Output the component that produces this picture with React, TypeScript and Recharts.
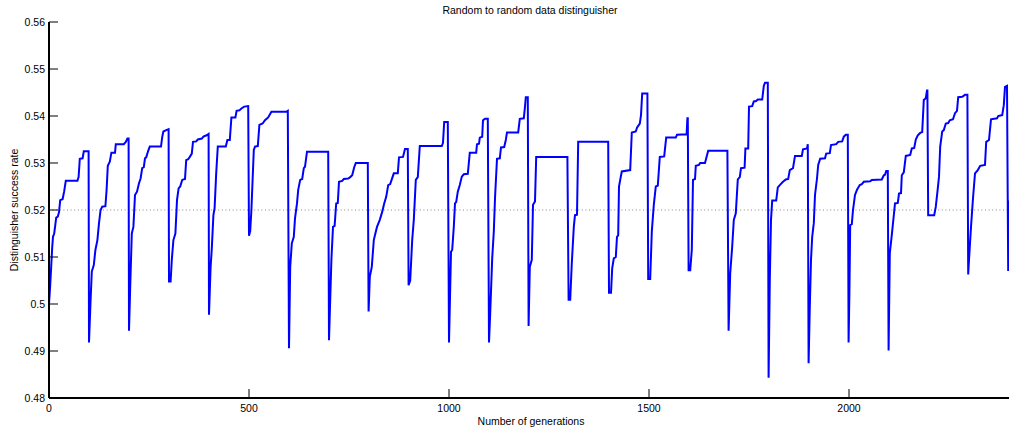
import React from "react";
import { LineChart, Line, XAxis, YAxis, ReferenceLine } from "recharts";

// Generation index of each vertex of the curve
const generations: number[] = [
  0, 3, 8, 10, 13, 16, 18, 22, 25, 28, 34, 38, 42, 71, 74, 77, 84, 87, 99,
  100, 104, 107, 112, 116, 121, 125, 129, 133, 141, 144, 147, 152, 156, 165, 167, 187, 192, 196, 199,
  200, 203, 207, 211, 215, 220, 225, 229, 233, 237, 240, 243, 248, 252, 280, 283, 286, 293, 299,
  300, 304, 307, 311, 316, 320, 324, 328, 333, 340, 343, 348, 352, 357, 360, 368, 372, 382, 386, 394, 399,
  400, 404, 407, 411, 414, 418, 422, 442, 446, 452, 456, 466, 469, 476, 481, 488, 498,
  500, 503, 506, 509, 512, 515, 522, 526, 534, 540, 548, 556, 593, 597,
  600, 603, 607, 612, 615, 620, 623, 628, 633, 637, 640, 645, 698,
  700, 706, 710, 714, 718, 722, 725, 733, 737, 748, 753, 758, 763, 767, 797,
  799, 802, 807, 812, 815, 820, 827, 833, 838, 843, 848, 853, 862, 872, 875, 885, 890, 897,
  899, 903, 908, 912, 917, 922, 927, 982, 985, 988, 997,
  1000, 1005, 1008, 1012, 1015, 1018, 1022, 1027, 1032, 1037, 1047, 1052, 1068, 1070, 1075, 1077, 1083, 1085, 1090, 1097,
  1100, 1103, 1108, 1112, 1115, 1120, 1127, 1130, 1138, 1142, 1145, 1173, 1177, 1187, 1190, 1192, 1197,
  1199, 1202, 1207, 1210, 1215, 1218, 1296,
  1299, 1303, 1307, 1312, 1315, 1320, 1323, 1398,
  1400, 1405, 1408, 1412, 1417, 1420, 1423, 1425, 1428, 1432, 1453, 1457, 1467, 1470, 1477, 1480, 1483, 1496,
  1498, 1503, 1507, 1512, 1517, 1522, 1527, 1538, 1543, 1567, 1570, 1594, 1596, 1597,
  1599, 1603, 1607, 1610, 1615, 1617, 1625, 1628, 1640, 1648, 1696,
  1699, 1703, 1708, 1712, 1717, 1722, 1727, 1730, 1739, 1741, 1748, 1750, 1758, 1762, 1768, 1772, 1783, 1787, 1790, 1797,
  1799, 1802, 1805, 1808, 1818, 1822, 1827, 1835, 1842, 1848, 1852, 1860, 1865, 1882, 1885, 1895, 1897,
  1899, 1902, 1905, 1908, 1912, 1915, 1920, 1923, 1928, 1940, 1943, 1952, 1955, 1968, 1973, 1983, 1987, 1992, 1997,
  1999, 2001, 2003, 2007, 2010, 2015, 2020, 2027, 2032, 2037, 2053, 2057, 2082, 2087, 2090, 2093, 2097,
  2099, 2102, 2107, 2110, 2115, 2122, 2125, 2130, 2132, 2137, 2142, 2153, 2157, 2163, 2167, 2172, 2178, 2183, 2187, 2192, 2195, 2196,
  2198, 2213, 2217, 2222, 2225, 2228, 2233, 2237, 2242, 2248, 2252, 2260, 2265, 2270, 2273, 2283, 2290, 2296,
  2298, 2300, 2305, 2310, 2315, 2322, 2328, 2340, 2343, 2350, 2355, 2370, 2373, 2383, 2387, 2390, 2395, 2398, 2400,
];

// Distinguisher success rate at each vertex
const successRate: number[] = [
  0.5, 0.504, 0.512, 0.5143, 0.515, 0.517, 0.5184, 0.5186, 0.5195, 0.5221, 0.5223, 0.524, 0.5262, 0.5262, 0.527, 0.5309, 0.531, 0.5325, 0.5325,
  0.4918, 0.5009, 0.5069, 0.5083, 0.5115, 0.5136, 0.5172, 0.52, 0.5207, 0.5208, 0.5243, 0.5294, 0.5303, 0.5322, 0.5322, 0.534, 0.534, 0.5345, 0.5352, 0.5352,
  0.4943, 0.5037, 0.515, 0.5164, 0.5232, 0.5239, 0.5257, 0.5267, 0.5289, 0.5291, 0.531, 0.5312, 0.5326, 0.5335, 0.5335, 0.5355, 0.5367, 0.537, 0.5372,
  0.5048, 0.5048, 0.5094, 0.5136, 0.515, 0.5221, 0.5246, 0.525, 0.5264, 0.5266, 0.5306, 0.5308, 0.5313, 0.532, 0.5345, 0.5346, 0.535, 0.5352, 0.5356, 0.5359, 0.5362,
  0.4977, 0.5079, 0.5118, 0.5189, 0.5204, 0.5278, 0.5335, 0.5335, 0.5349, 0.5349, 0.5397, 0.5397, 0.5411, 0.5412, 0.5416, 0.542, 0.5421,
  0.5145, 0.5155, 0.52, 0.5264, 0.5328, 0.5335, 0.5336, 0.5381, 0.5384, 0.5391, 0.5397, 0.5409, 0.5409, 0.5411,
  0.4906, 0.5079, 0.5129, 0.5143, 0.5182, 0.5214, 0.5243, 0.5264, 0.5266, 0.5289, 0.5292, 0.5324, 0.5324,
  0.4923, 0.5094, 0.5164, 0.5166, 0.5214, 0.5215, 0.526, 0.5262, 0.5266, 0.5267, 0.527, 0.5274, 0.5291, 0.53, 0.53,
  0.4984, 0.5058, 0.5079, 0.5136, 0.5147, 0.5164, 0.5179, 0.5196, 0.5214, 0.5228, 0.5253, 0.5255, 0.5278, 0.5278, 0.5312, 0.5313, 0.533, 0.533,
  0.504, 0.505, 0.5136, 0.5179, 0.5264, 0.527, 0.5336, 0.5336, 0.5343, 0.5387, 0.5387,
  0.4918, 0.5111, 0.5115, 0.5164, 0.5214, 0.5217, 0.5239, 0.5253, 0.5271, 0.5276, 0.5277, 0.5322, 0.5322, 0.534, 0.5341, 0.5354, 0.5356, 0.5391, 0.5394, 0.5394,
  0.4918, 0.498, 0.5097, 0.5154, 0.5225, 0.5309, 0.531, 0.5333, 0.5334, 0.5349, 0.5365, 0.5365, 0.5394, 0.5395, 0.542, 0.544, 0.544,
  0.4953, 0.5079, 0.5094, 0.5211, 0.5218, 0.5313, 0.5313,
  0.5009, 0.5009, 0.5087, 0.5164, 0.5189, 0.519, 0.5345, 0.5345,
  0.5024, 0.5024, 0.5076, 0.5097, 0.51, 0.5143, 0.5146, 0.525, 0.5264, 0.5282, 0.5285, 0.5365, 0.5367, 0.5375, 0.5384, 0.5402, 0.5448, 0.5448,
  0.5053, 0.5053, 0.5154, 0.5211, 0.525, 0.5252, 0.5313, 0.5314, 0.5354, 0.5354, 0.536, 0.5361, 0.5395, 0.5395,
  0.5072, 0.5072, 0.5115, 0.5264, 0.5266, 0.5294, 0.5296, 0.53, 0.53, 0.5326, 0.5326,
  0.4943, 0.5065, 0.5122, 0.5179, 0.5193, 0.5265, 0.527, 0.5289, 0.529, 0.5331, 0.5331, 0.542, 0.5421, 0.5431, 0.5432, 0.5435, 0.5435, 0.5464, 0.5471, 0.5471,
  0.4843, 0.5051, 0.5179, 0.522, 0.522, 0.5248, 0.5253, 0.526, 0.5265, 0.5266, 0.5285, 0.5289, 0.5315, 0.5315, 0.5329, 0.5331, 0.534,
  0.4874, 0.4994, 0.5094, 0.5143, 0.5172, 0.5232, 0.5267, 0.5296, 0.5309, 0.531, 0.532, 0.5321, 0.5338, 0.534, 0.5345, 0.5346, 0.5356, 0.536, 0.536,
  0.4918, 0.5023, 0.5168, 0.517, 0.52, 0.5232, 0.5243, 0.5253, 0.5255, 0.526, 0.5261, 0.5264, 0.5265, 0.5274, 0.5275, 0.5283, 0.5283,
  0.4901, 0.5108, 0.5147, 0.5172, 0.5214, 0.5215, 0.5235, 0.5236, 0.5274, 0.528, 0.5315, 0.5317, 0.5331, 0.5332, 0.535, 0.5359, 0.5364, 0.5366, 0.5434, 0.5438, 0.5454, 0.5454,
  0.5189, 0.5189, 0.5207, 0.5246, 0.5271, 0.5335, 0.5367, 0.537, 0.5384, 0.5385, 0.5391, 0.5393, 0.5406, 0.5411, 0.544, 0.5441, 0.5445, 0.5445,
  0.5063, 0.5094, 0.5164, 0.5225, 0.5278, 0.5285, 0.5294, 0.5296, 0.5345, 0.5349, 0.5393, 0.5395, 0.54, 0.5402, 0.5423, 0.5462, 0.5464, 0.507, 0.522,
];

const xTicks = [0, 500, 1000, 1500, 2000];
const yTicks = [0.48, 0.49, 0.5, 0.51, 0.52, 0.53, 0.54, 0.55, 0.56];
const threshold = 0.52;

const title = "Random to random data distinguisher";
const xLabel = "Number of generations";
const yLabel = "Distinguisher success rate";

const data = generations.map((g, i) => ({ g, rate: successRate[i] }));

const FONT = '"Liberation Sans", Arial, Helvetica, sans-serif';
const tickStyle = { fill: "#000", fontSize: 10.5, fontFamily: FONT };

export default function App() {
  return (
    <div
      style={{
        position: "absolute",
        left: 0,
        top: 0,
        width: 1010,
        height: 429,
        background: "#fff",
        fontFamily: FONT,
      }}
    >
      <LineChart
        width={1010}
        height={429}
        data={data}
        margin={{ top: 22, right: 1, bottom: 0, left: 0 }}
      >
        <XAxis
          xAxisId="bottom"
          dataKey="g"
          type="number"
          domain={[0, 2400]}
          ticks={xTicks}
          allowDataOverflow
          height={31}
          tickSize={-9}
          tickMargin={15.5}
          axisLine={{ stroke: "#000", strokeWidth: 2 }}
          tickLine={{ stroke: "#000", strokeWidth: 1 }}
          tick={tickStyle}
        />
        <XAxis
          xAxisId="top"
          orientation="top"
          type="number"
          domain={[0, 2400]}
          ticks={xTicks}
          allowDataOverflow
          height={0}
          tickSize={-9}
          tick={false}
          axisLine={{ stroke: "#000", strokeWidth: 1 }}
          tickLine={{ stroke: "#000", strokeWidth: 1 }}
        />
        <YAxis
          yAxisId="left"
          type="number"
          domain={[0.48, 0.56]}
          ticks={yTicks}
          allowDataOverflow
          width={49}
          tickSize={-9}
          tickMargin={13}
          tickFormatter={(v: number) => String(+v.toFixed(2))}
          axisLine={{ stroke: "#000", strokeWidth: 2 }}
          tickLine={{ stroke: "#000", strokeWidth: 1 }}
          tick={tickStyle}
        />
        <YAxis
          yAxisId="right"
          orientation="right"
          type="number"
          domain={[0.48, 0.56]}
          ticks={yTicks}
          allowDataOverflow
          width={0}
          tickSize={-9}
          tick={false}
          axisLine={{ stroke: "#000", strokeWidth: 1 }}
          tickLine={{ stroke: "#000", strokeWidth: 1 }}
        />
        <ReferenceLine
          xAxisId="bottom"
          yAxisId="left"
          y={threshold}
          stroke="#888"
          strokeWidth={1}
          strokeDasharray="1 2.6"
        />
        <Line
          xAxisId="bottom"
          yAxisId="left"
          type="linear"
          dataKey="rate"
          stroke="#0000ff"
          strokeWidth={2}
          dot={false}
          activeDot={false}
          isAnimationActive={false}
        />
      </LineChart>
      <div
        style={{
          position: "absolute",
          left: 530,
          top: 10,
          transform: "translate(-50%, -50%)",
          fontSize: 10.5,
          lineHeight: 1,
          whiteSpace: "nowrap",
          color: "#000",
        }}
      >
        {title}
      </div>
      <div
        style={{
          position: "absolute",
          left: 531,
          top: 421,
          transform: "translate(-50%, -50%)",
          fontSize: 10.5,
          lineHeight: 1,
          whiteSpace: "nowrap",
          color: "#000",
        }}
      >
        {xLabel}
      </div>
      <div
        style={{
          position: "absolute",
          left: 14,
          top: 210,
          transform: "translate(-50%, -50%) rotate(-90deg)",
          fontSize: 10.5,
          lineHeight: 1,
          whiteSpace: "nowrap",
          color: "#000",
        }}
      >
        {yLabel}
      </div>
    </div>
  );
}
